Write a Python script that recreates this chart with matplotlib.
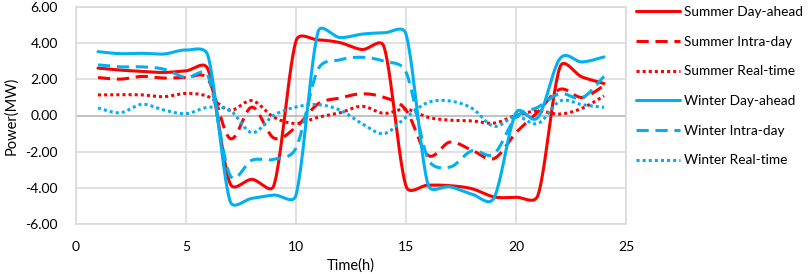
import numpy as np
import matplotlib
matplotlib.use('Agg')
import matplotlib.pyplot as plt
from matplotlib.ticker import FuncFormatter

plt.rcParams['font.family'] = ['Lato', 'DejaVu Sans']

# hourly values (MW)
hours = list(range(1, 25))
summer_day_ahead = [2.62, 2.51, 2.44, 2.38, 2.47, 2.55, -3.75, -3.53, -3.85, 4.12, 4.18, 4.03,
                    3.65, 3.8, -3.9, -3.85, -3.88, -4.05, -4.5, -4.52, -4.4, 2.68, 2.13, 1.77]
summer_intra_day = [2.1, 2.01, 2.16, 2.07, 2.1, 2.0, -1.27, 0.46, -1.25, -0.64, 0.64, 0.97,
                    1.2, 1.0, 0.3, -2.2, -1.47, -1.92, -2.38, -0.95, 0.2, 1.45, 1.0, 1.65]
summer_real_time = [1.14, 1.15, 1.14, 1.04, 1.22, 1.05, 0.29, 0.82, -0.1, -0.44, -0.1, 0.15,
                    0.51, 0.12, 0.35, -0.1, -0.26, -0.3, -0.42, 0.0, 0.25, 0.08, 0.4, 1.08]
winter_day_ahead = [3.53, 3.42, 3.44, 3.4, 3.62, 3.3, -4.72, -4.58, -4.4, -4.4, 4.62, 4.31,
                    4.5, 4.57, 4.5, -3.82, -3.94, -4.35, -4.55, 0.15, -0.1, 3.15, 2.96, 3.24]
winter_intra_day = [2.8, 2.69, 2.69, 2.56, 2.1, 2.2, -3.3, -2.47, -2.42, -1.8, 2.55, 3.08,
                    3.22, 3.0, 2.4, -2.4, -2.85, -1.95, -2.12, -0.1, 0.46, 1.21, 0.97, 2.17]
winter_real_time = [0.42, 0.15, 0.62, 0.3, 0.1, 0.45, 0.29, -0.95, 0.02, 0.47, 0.6, 0.3,
                    -0.45, -1.0, -0.1, 0.72, 0.8, 0.4, -0.6, -0.05, -0.44, 0.8, 0.6, 0.45]

series = [
    ('Summer Day-ahead', summer_day_ahead, '#FF0000', '-'),
    ('Summer Intra-day', summer_intra_day, '#FF0000', 'dash'),
    ('Summer Real-time', summer_real_time, '#FF0000', 'dot'),
    ('Winter Day-ahead', winter_day_ahead, '#00B0F0', '-'),
    ('Winter Intra-day', winter_intra_day, '#00B0F0', 'dash'),
    ('Winter Real-time', winter_real_time, '#00B0F0', 'dot'),
]


def smooth_line(ax, x, y, n=24):
    # Excel-like smoothed line: cubic Bezier through the points, built in screen space
    pts = ax.transData.transform(np.column_stack([x, y]))
    out = [pts[0]]
    t = np.linspace(0, 1, n)[1:, None]
    for i in range(len(pts) - 1):
        p0 = pts[i - 1] if i > 0 else pts[i]
        p1, p2 = pts[i], pts[i + 1]
        p3 = pts[i + 2] if i + 2 < len(pts) else pts[i + 1]
        d12 = np.linalg.norm(p2 - p1)
        d02 = np.linalg.norm(p2 - p0)
        d13 = np.linalg.norm(p3 - p1)
        f1 = 1 / 6 if d02 / 6 < d12 / 2 else d12 / (2 * d02)
        f2 = 1 / 6 if d13 / 6 < d12 / 2 else d12 / (2 * d13)
        c1 = p1 + (p2 - p0) * f1
        c2 = p2 - (p3 - p1) * f2
        seg = ((1 - t) ** 3) * p1 + 3 * ((1 - t) ** 2) * t * c1 + 3 * (1 - t) * t ** 2 * c2 + t ** 3 * p2
        out.extend(seg)
    xy = ax.transData.inverted().transform(np.array(out))
    return xy[:, 0], xy[:, 1]


fig = plt.figure(figsize=(8.09, 2.74), dpi=100)
ax = fig.add_axes([76 / 809, 1 - 224 / 274, 550 / 809, 217 / 274])
ax.set_xlim(0, 25)
ax.set_ylim(-6, 6)
ax.set_xticks(range(0, 26, 5))
ax.set_yticks(range(-6, 7, 2))
ax.yaxis.set_major_formatter(FuncFormatter(lambda v, p: f'{v:.2f}'))
ax.grid(True, color='#d9d9d9', linewidth=1.1)
ax.set_axisbelow(True)
ax.axhline(0, color='#bfbfbf', linewidth=1.3, zorder=1)
for s in ax.spines.values():
    s.set_color('#d9d9d9')
    s.set_linewidth(1.1)
ax.tick_params(length=0, labelsize=10, colors='black')
ax.tick_params(axis='y', pad=13)
ax.tick_params(axis='x', pad=12)

for label, vals, color, style in series:
    sx, sy = smooth_line(ax, hours, vals)
    line, = ax.plot(sx, sy, color=color, linewidth=2.2, label=label, solid_capstyle='round')
    if style == 'dash':
        line.set_dashes((4, 2.2))
        line.set_dash_capstyle('butt')
    elif style == 'dot':
        line.set_dashes((1, 1))
        line.set_dash_capstyle('butt')

ax.set_xlabel('Time(h)', fontsize=10.5, labelpad=4)
ax.set_ylabel('Power(MW)', fontsize=10.5, labelpad=5)

fig.legend(loc='upper left', bbox_to_anchor=(636 / 809, 1 - 6 / 274), frameon=False,
           fontsize=9.8, handlelength=3.2, handletextpad=0.35, labelspacing=1.3,
           borderpad=0, borderaxespad=0)

fig.savefig('out.png', dpi=100)
